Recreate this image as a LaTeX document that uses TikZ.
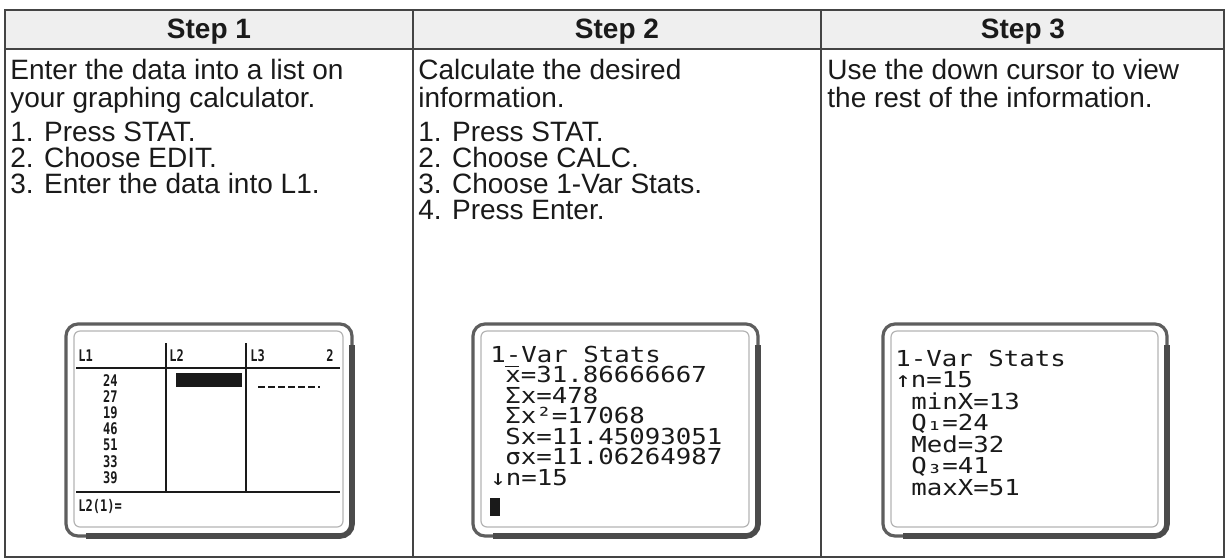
\documentclass[tikz,border=0pt]{standalone}
\usepackage{fontspec}
\setmainfont{Liberation Sans}
\newfontfamily\lcdfont[FakeStretch=1.17]{DejaVu Sans Mono}
\newfontfamily\lcdsmall[FakeStretch=0.75]{DejaVu Sans Mono}
\usetikzlibrary{positioning,calc}
\definecolor{ink}{HTML}{1A1A1A}
\definecolor{rule}{HTML}{444444}
\definecolor{headbg}{HTML}{EFEFEF}
\definecolor{bezel}{HTML}{5E5E5E}
\definecolor{lcdedge}{HTML}{B4B4B4}
\newcommand\xbar{\rlap{\rule[0.7em]{0.6em}{0.07em}}x}
\tikzset{txt/.style={anchor=base west,inner sep=0pt,text=ink,font=\fontsize{14}{14}\selectfont},
  head/.style={anchor=base,inner sep=0pt,text=ink,font=\fontsize{14}{14}\selectfont\bfseries},
  lcd/.style={anchor=base west,inner sep=0pt,text=ink,text height=8pt,text depth=0.5pt,
    font=\lcdfont\fontsize{11}{11}\selectfont},
  lcdsm/.style={anchor=base west,inner sep=0pt,text=ink,text height=6pt,text depth=0pt,
    font=\lcdsmall\bfseries\fontsize{8}{8}\selectfont},
  grid/.style={ink,line width=1pt},
  frame/.style={rule,line width=0.8pt}}

\begin{document}
\begin{tikzpicture}[x=0.5pt,y=-0.5pt]
\useasboundingbox (0,0) rectangle (1226,559);
% table
\fill[headbg] (5,10) rectangle (1224,49);
\draw[frame] (5,10) rectangle (1224,557);
\draw[frame] (5,49) -- (1224,49) (413,10) -- (413,557) (821,10) -- (821,557);
\foreach \c/\xc in {1/209,2/617,3/1023}
 \node[head] (step\c) at (\xc,38) {Step \c};

\foreach \y/\t [count=\i] in {79/Enter the data into a list on,107/your graphing calculator.,
  141/1. Press STAT.,167/2. Choose EDIT.,193/3. Enter the data into L1.}
 \node[txt] (one\i) at (10,\y) {\t};
\foreach \y/\t [count=\i] in {79/Calculate the desired,107/information.,141/1. Press STAT.,
  167/2. Choose CALC.,193/3. Choose 1-Var Stats.,219/4. Press Enter.}
 \node[txt] (two\i) at (418,\y) {\t};
\foreach \y/\t [count=\i] in {79/Use the down cursor to view,107/the rest of the information.}
 \node[txt] (three\i) at (827,\y) {\t};

% calculator screens
\foreach \a/\b in {66/352,473/758,883/1167}{
 \draw[bezel,line width=1.6pt,fill=white,rounded corners=6pt] (\a,324) rectangle (\b,536);
 \draw[bezel!80!black,line width=2.8pt,rounded corners=6pt] (\b,345) -- (\b,536) -- (\a+20,536);
 \draw[lcdedge,line width=0.6pt,rounded corners=3pt] (\a+8,331) rectangle (\b-9,527);}

% list editor
\node[lcdsm] (l1) at (78,361) {L1};
\node[lcdsm] (l2) at (169,361) {L2};
\node[lcdsm] (l3) at (250,361) {L3};
\node[lcdsm,anchor=base east] (col) at (334,361) {2};
\draw[grid] (76,368) -- (340,368) (166,343) -- (166,492) (246,343) -- (246,492) (76,492) -- (340,492);
\foreach \v [count=\i] in {24,27,19,46,51,33,39}
 \node[lcdsm,anchor=base east] (v\i) at (118,{386+16.2*(\i-1)}) {\v};
\fill[ink] (176,373) rectangle (242,387);
\draw[ink,line width=1pt,dash pattern=on 3.5pt off 1.5pt] (258,387) -- (320,387);
\node[lcdsm] (entry) at (78,511) {L2(1)=};

% 1-Var Stats, first page
\node[lcd] (a0) at (490,362) {1-Var Stats};
\foreach \t [count=\i] in {\xbar=31.86666667,Σx=478,Σx²=17068,Sx=11.45093051,σx=11.06264987}
 \node[lcd] (a\i) at (505,{362+20.5*\i}) {\t};
\node[lcd] (a6) at (490,{362+20.5*6}) {↓n=15};
\fill[ink] (490,498) rectangle (500,516);

% 1-Var Stats, second page
\node[lcd] (b0) at (895,366) {1-Var Stats};
\node[lcd] (b1) at (895,387.5) {↑n=15};
\foreach \t [count=\i from 2] in {minX=13,Q₁=24,Med=32,Q₃=41,maxX=51}
 \node[lcd] (b\i) at (911,{366+21.5*\i}) {\t};
\end{tikzpicture}
\end{document}
